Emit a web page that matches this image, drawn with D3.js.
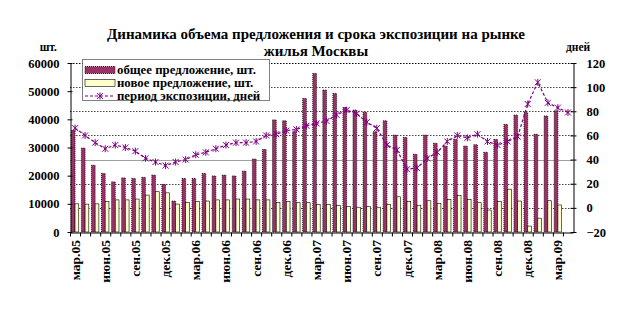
<!DOCTYPE html>
<html>
<head>
<meta charset="utf-8">
<script src="https://cdn.jsdelivr.net/npm/d3@7"></script>
<style>
  html, body { margin: 0; padding: 0; background: #fff; }
  svg { display: block; }
  text { font-family: "Liberation Serif", "Times New Roman", serif; font-weight: bold; fill: #000; }
</style>
</head>
<body>
<svg id="chart" width="637" height="329"></svg>
<script>
// Months, March 2005 – April 2009
const categories = [
  "мар.05","апр.05","май.05","июн.05","июл.05","авг.05","сен.05","окт.05","ноя.05","дек.05",
  "янв.06","фев.06","мар.06","апр.06","май.06","июн.06","июл.06","авг.06","сен.06","окт.06",
  "ноя.06","дек.06","янв.07","фев.07","мар.07","апр.07","май.07","июн.07","июл.07","авг.07",
  "сен.07","окт.07","ноя.07","дек.07","янв.08","фев.08","мар.08","апр.08","май.08","июн.08",
  "июл.08","авг.08","сен.08","окт.08","ноя.08","дек.08","янв.09","фев.09","мар.09","апр.09"
];

// Total supply, flats
const totalSupply = [
  36000, 29800, 23700, 20800, 17800, 19200, 19000, 19400, 20200, 16900,
  11000, 19000, 19000, 20800, 19900, 20200, 19900, 21600, 25900, 29300,
  39800, 39500, 35600, 47400, 56300, 50400, 49200, 44200, 43300, 42500,
  35600, 39500, 34400, 33600, 27600, 34400, 31500, 30500, 32900, 30500,
  31000, 28300, 32900, 38200, 41500, 42400, 34700, 41200, 43000
];

// New supply, flats
const newSupply = [
  10000, 9900, 10000, 10800, 11400, 11400, 11700, 13100, 14300, 13900,
  9900, 10500, 10800, 11000, 11400, 11400, 11700, 11700, 11400, 11400,
  10500, 10800, 10400, 10400, 9800, 9800, 9400, 9000, 8800, 9000,
  8800, 9800, 12500, 10900, 9500, 11100, 10200, 11600, 13000, 11600,
  10400, 7800, 10900, 15200, 11000, 2100, 4900, 11100, 9600
];

// Exposure period, days
const exposureDays = [
  66, 60, 54, 49, 52, 50, 47, 41, 38, 35,
  38, 40, 44, 46, 49, 52, 54, 54, 55, 60,
  61, 64, 65, 68, 70, 72, 77, 81, 78, 71,
  66, 52, 48, 32, 33, 41, 46, 55, 60, 58,
  61, 55, 52, 55, 59, 86, 104, 87, 83, 79
];

const tickLabels = [
  "мар.05","июн.05","сен.05","дек.05","мар.06","июн.06","сен.06","дек.06",
  "мар.07","июн.07","сен.07","дек.07","мар.08","июн.08","сен.08","дек.08","мар.09"
];
const leftTicks = [0, 10000, 20000, 30000, 40000, 50000, 60000];
const rightTicks = [-20, 0, 20, 40, 60, 80, 100, 120];

const titleLines = ["Динамика объема предложения и срока экспозиции на рынке", "жилья Москвы"];
const seriesNames = ["общее предложение, шт.", "новое предложение, шт.", "период экспозиции, дней"];

const colTotal = "#993366", colNew = "#FFFFCC", colLine = "#800080";

const svg = d3.select("#chart");
const plot = { left: 70, right: 573, top: 63, bottom: 232 };

const x = d3.scaleBand().domain(categories).range([plot.left, plot.right]);
const yL = d3.scaleLinear().domain([0, 60000]).range([plot.bottom, plot.top]);
const yR = d3.scaleLinear().domain([-20, 120]).range([plot.bottom, plot.top]);
const bw = x.bandwidth() * 0.37;

// gridlines on the day scale
const grid = svg.append("g");
rightTicks.filter(t => t > -20).forEach(t => {
  grid.append("line")
    .attr("x1", plot.left).attr("x2", plot.right)
    .attr("y1", Math.round(yR(t)) + 0.5).attr("y2", Math.round(yR(t)) + 0.5)
    .attr("stroke", t === 40 ? "#a0a0a0" : (t === 120 ? "#000" : "#444"))
    .attr("stroke-width", 1)
    .attr("stroke-dasharray", t === 40 ? null : "1.5,1.5");
});

// bars
const bars = svg.append("g");
totalSupply.forEach((v, i) => {
  const cx = x(categories[i]) + x.bandwidth() / 2;
  bars.append("rect")
    .attr("x", cx - bw).attr("y", yL(v))
    .attr("width", bw).attr("height", yL(0) - yL(v))
    .attr("fill", colTotal).attr("stroke", "#000").attr("stroke-width", 0.8)
    .attr("stroke-dasharray", "1,1");
});
newSupply.forEach((v, i) => {
  const cx = x(categories[i]) + x.bandwidth() / 2;
  bars.append("rect")
    .attr("x", cx).attr("y", yL(v))
    .attr("width", bw).attr("height", yL(0) - yL(v))
    .attr("fill", colNew).attr("stroke", "#000").attr("stroke-width", 0.6);
});

// exposure line
const lineGen = d3.line()
  .x((d, i) => x(categories[i]) + x.bandwidth() / 2)
  .y(d => yR(d));
svg.append("path").datum(exposureDays)
  .attr("d", lineGen)
  .attr("fill", "none").attr("stroke", colLine).attr("stroke-width", 1.2)
  .attr("stroke-dasharray", "3,2");

const starPath = "M-3,-3L3,3M-3,3L3,-3M0,-3.5L0,3.5";
svg.append("g").selectAll("path").data(exposureDays).join("path")
  .attr("transform", (d, i) => `translate(${x(categories[i]) + x.bandwidth() / 2},${yR(d)})`)
  .attr("d", starPath)
  .attr("fill", "none").attr("stroke", colLine).attr("stroke-width", 1);

// axes
const axisLeft = d3.axisLeft(yL).tickValues(leftTicks).tickFormat(d3.format("d")).tickSizeInner(3).tickSizeOuter(0).tickPadding(8);
const gL = svg.append("g").attr("transform", `translate(${plot.left + 0.5},0)`).call(axisLeft);
gL.selectAll("text").attr("font-size", 12.5).attr("font-family", "Liberation Serif").attr("font-weight", "bold");

const axisRight = d3.axisRight(yR).tickValues(rightTicks).tickFormat(d3.format("d")).tickSizeInner(3).tickSizeOuter(0).tickPadding(10);
const gR = svg.append("g").attr("transform", `translate(${plot.right + 0.5},0)`).call(axisRight);
gR.selectAll("text").attr("font-size", 12.5).attr("font-family", "Liberation Serif").attr("font-weight", "bold");
gR.selectAll(".tick line").attr("x1", -3);
gL.selectAll(".tick line").attr("x2", -3).attr("x1", 2);

const axisBottom = d3.axisBottom(x).tickValues(categories).tickFormat("").tickSizeInner(4).tickSizeOuter(0);
const gB = svg.append("g").attr("transform", `translate(0,${plot.bottom + 0.5})`).call(axisBottom);
gB.selectAll(".tick").attr("transform", d => `translate(${x(d) + 0.5},0)`);

svg.selectAll(".domain").attr("stroke", "#000");
svg.selectAll(".tick line").attr("stroke", "#000");

// month labels, rotated
svg.append("g").selectAll("text").data(tickLabels).join("text")
  .attr("transform", d => `translate(${x(d) + x.bandwidth() / 2 + 4.5},240) rotate(-90)`)
  .attr("text-anchor", "end")
  .attr("font-size", 13.5)
  .text(d => d);

// units
svg.append("text").attr("x", 57).attr("y", 51).attr("text-anchor", "end").attr("font-size", 11.5).text("шт.");
svg.append("text").attr("x", 566).attr("y", 51).attr("font-size", 11.5).text("дней");

// title
svg.append("g").selectAll("text").data(titleLines).join("text")
  .attr("x", 316).attr("y", (d, i) => 39 + i * 16.5)
  .attr("text-anchor", "middle").attr("font-size", 15)
  .text(d => d);

// legend
const lg = svg.append("g");
lg.append("rect").attr("x", 82.5).attr("y", 59.5).attr("width", 187).attr("height", 41)
  .attr("fill", "#fff").attr("stroke", "#000").attr("stroke-dasharray", "1,1");
const rowsY = [70, 83, 96];
lg.append("rect").attr("x", 85).attr("y", rowsY[0] - 3.5).attr("width", 30).attr("height", 7)
  .attr("fill", colTotal).attr("stroke", "#000").attr("stroke-width", 0.8).attr("stroke-dasharray", "1,1");
lg.append("rect").attr("x", 85).attr("y", rowsY[1] - 3.5).attr("width", 30).attr("height", 7)
  .attr("fill", colNew).attr("stroke", "#000").attr("stroke-width", 0.6);
lg.append("line").attr("x1", 85).attr("x2", 115).attr("y1", rowsY[2]).attr("y2", rowsY[2])
  .attr("stroke", colLine).attr("stroke-width", 1.2).attr("stroke-dasharray", "3,2");
lg.append("path").attr("transform", `translate(100,${rowsY[2]})`).attr("d", starPath)
  .attr("fill", "none").attr("stroke", colLine).attr("stroke-width", 1);
lg.selectAll("text.lbl").data(seriesNames).join("text").attr("class", "lbl")
  .attr("x", 117).attr("y", (d, i) => rowsY[i] + 4)
  .attr("font-size", 12.8).text(d => d);
</script>
</body>
</html>
